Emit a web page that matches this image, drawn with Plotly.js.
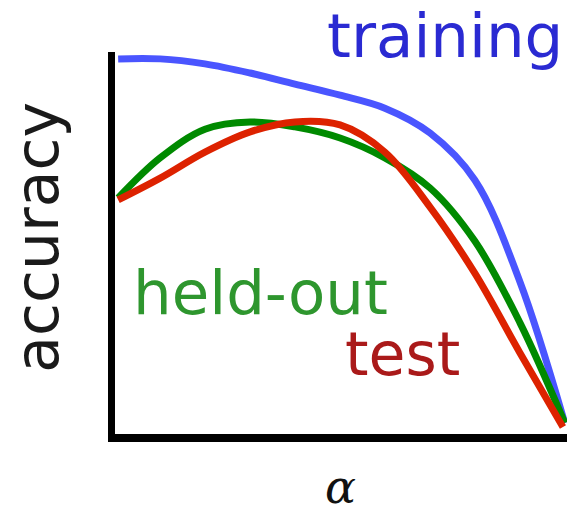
<!DOCTYPE html>
<html>
<head>
<meta charset="utf-8">
<script src="https://cdn.plot.ly/plotly-3.0.1.min.js"></script>
<style>html,body{margin:0;padding:0;background:#fff;}#chart{width:574px;height:515px;}</style>
</head>
<body>
<div id="chart"></div>
<script>
// alpha positions and accuracy values (arbitrary units 0..1)
const alphaGrid     = [0.007, 0.100, 0.199, 0.299, 0.398, 0.498, 0.597, 0.697, 0.796, 0.896, 0.995];
const trainingAcc   = [0.982, 0.982, 0.969, 0.945, 0.916, 0.887, 0.853, 0.788, 0.665, 0.398, 0.029];
const heldoutAcc    = [0.618, 0.723, 0.798, 0.817, 0.804, 0.775, 0.723, 0.644, 0.505, 0.291, 0.029];
const testAlpha     = [0.007, 0.100, 0.199, 0.299, 0.398, 0.498, 0.597, 0.697, 0.796, 0.896, 0.991];
const testAcc       = [0.613, 0.670, 0.738, 0.791, 0.817, 0.809, 0.738, 0.594, 0.421, 0.212, 0.018];

const seriesLabels = ["training", "held-out", "test"];
const xLabel = "α";
const yLabel = "accuracy";

const lineStyle = (c) => ({color: c, width: 7, shape: "spline", smoothing: 1});
const traces = [
  {x: alphaGrid, y: trainingAcc, mode: "lines", line: lineStyle("#4a55ff"), name: seriesLabels[0], hoverinfo: "skip"},
  {x: alphaGrid, y: heldoutAcc, mode: "lines", line: lineStyle("#008a00"), name: seriesLabels[1], hoverinfo: "skip"},
  {x: testAlpha, y: testAcc, mode: "lines", line: lineStyle("#dd2200"), name: seriesLabels[2], hoverinfo: "skip"}
];

const font = "DejaVu Sans, Verdana, sans-serif";
const layout = {
  width: 574, height: 515,
  margin: {l: 115, r: 7, t: 52, b: 81},
  paper_bgcolor: "#ffffff", plot_bgcolor: "#ffffff",
  showlegend: false,
  xaxis: {range: [0, 1], showline: true, linecolor: "#000", linewidth: 8, showgrid: false, zeroline: false, showticklabels: false, ticks: "", fixedrange: true},
  yaxis: {range: [0, 1], showline: true, linecolor: "#000", linewidth: 7, showgrid: false, zeroline: false, showticklabels: false, ticks: "", fixedrange: true},
  annotations: [
    {xref: "paper", yref: "paper", x: 0.730, y: 1.044, text: seriesLabels[0], showarrow: false, xanchor: "center", yanchor: "middle", font: {family: font, size: 61, color: "#2a2ad2"}},
    {xref: "paper", yref: "paper", x: 0.321, y: 0.371, text: seriesLabels[1], showarrow: false, xanchor: "center", yanchor: "middle", font: {family: font, size: 61, color: "#2e962e"}},
    {xref: "paper", yref: "paper", x: 0.637, y: 0.209, text: seriesLabels[2], showarrow: false, xanchor: "center", yanchor: "middle", font: {family: font, size: 60, color: "#aa1a1a"}},
    {xref: "paper", yref: "paper", x: -0.173, y: 0.516, text: yLabel, textangle: -90, showarrow: false, xanchor: "center", yanchor: "middle", font: {family: font, size: 60, color: "#1a1a1a"}},
    {xref: "paper", yref: "paper", x: 0.498, y: -0.138, text: "<i>" + xLabel + "</i>", showarrow: false, xanchor: "center", yanchor: "middle", font: {family: "DejaVu Serif, Liberation Serif, serif", size: 46, color: "#111"}}
  ]
};

Plotly.newPlot("chart", traces, layout, {staticPlot: true, displayModeBar: false});
</script>
</body>
</html>
